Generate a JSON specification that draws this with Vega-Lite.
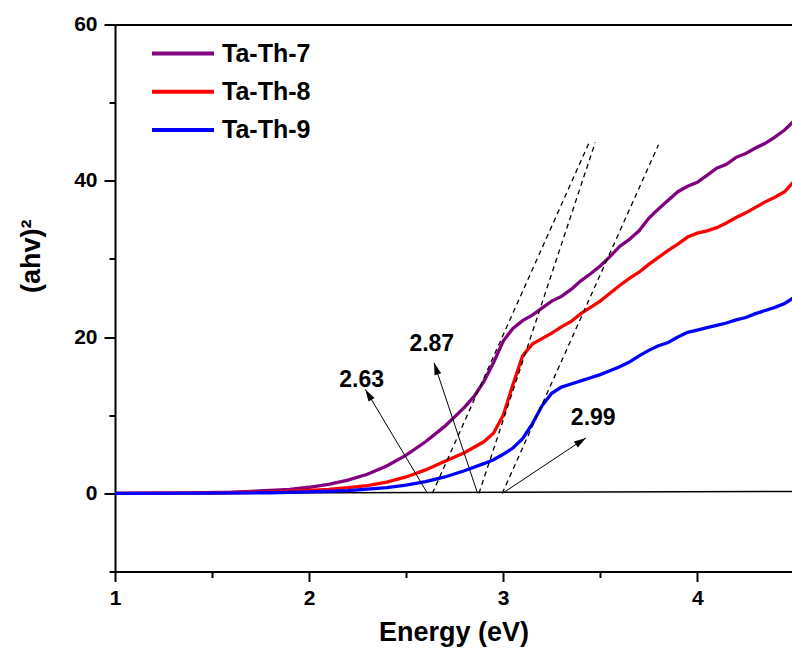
{
  "$schema": "https://vega.github.io/schema/vega-lite/v6.json",
  "width": 677,
  "height": 547,
  "autosize": {"type": "none"},
  "padding": {"left": 115, "top": 24.5, "right": 0, "bottom": 83.5},
  "background": "white",
  "config": {"view": {"stroke": null}, "font": "Liberation Sans"},
  "datasets": {
    "baseline": [
      {"energy": 1.0, "value": 0},
      {"energy": 4.5, "value": 0.25}
    ],
    "curves": [
      {"series": "Ta-Th-7", "energy": 1.0, "value": 0.0},
      {"series": "Ta-Th-7", "energy": 1.2, "value": 0.02},
      {"series": "Ta-Th-7", "energy": 1.4, "value": 0.06},
      {"series": "Ta-Th-7", "energy": 1.6, "value": 0.15},
      {"series": "Ta-Th-7", "energy": 1.7, "value": 0.25},
      {"series": "Ta-Th-7", "energy": 1.8, "value": 0.37},
      {"series": "Ta-Th-7", "energy": 1.9, "value": 0.52},
      {"series": "Ta-Th-7", "energy": 2.0, "value": 0.78},
      {"series": "Ta-Th-7", "energy": 2.1, "value": 1.15},
      {"series": "Ta-Th-7", "energy": 2.2, "value": 1.7},
      {"series": "Ta-Th-7", "energy": 2.3, "value": 2.45},
      {"series": "Ta-Th-7", "energy": 2.4, "value": 3.5},
      {"series": "Ta-Th-7", "energy": 2.5, "value": 4.9},
      {"series": "Ta-Th-7", "energy": 2.6, "value": 6.6},
      {"series": "Ta-Th-7", "energy": 2.7, "value": 8.6},
      {"series": "Ta-Th-7", "energy": 2.8, "value": 11.0},
      {"series": "Ta-Th-7", "energy": 2.85, "value": 12.4},
      {"series": "Ta-Th-7", "energy": 2.9, "value": 14.3},
      {"series": "Ta-Th-7", "energy": 2.95, "value": 16.7},
      {"series": "Ta-Th-7", "energy": 3.0, "value": 19.5},
      {"series": "Ta-Th-7", "energy": 3.05, "value": 21.1},
      {"series": "Ta-Th-7", "energy": 3.1, "value": 22.1},
      {"series": "Ta-Th-7", "energy": 3.15, "value": 22.8},
      {"series": "Ta-Th-7", "energy": 3.2, "value": 23.7},
      {"series": "Ta-Th-7", "energy": 3.25, "value": 24.6},
      {"series": "Ta-Th-7", "energy": 3.3, "value": 25.2},
      {"series": "Ta-Th-7", "energy": 3.35, "value": 26.1},
      {"series": "Ta-Th-7", "energy": 3.4, "value": 27.2},
      {"series": "Ta-Th-7", "energy": 3.45, "value": 28.1},
      {"series": "Ta-Th-7", "energy": 3.5, "value": 29.1},
      {"series": "Ta-Th-7", "energy": 3.55, "value": 30.3},
      {"series": "Ta-Th-7", "energy": 3.6, "value": 31.6},
      {"series": "Ta-Th-7", "energy": 3.65, "value": 32.5},
      {"series": "Ta-Th-7", "energy": 3.7, "value": 33.6},
      {"series": "Ta-Th-7", "energy": 3.75, "value": 35.2},
      {"series": "Ta-Th-7", "energy": 3.8, "value": 36.4},
      {"series": "Ta-Th-7", "energy": 3.85, "value": 37.5},
      {"series": "Ta-Th-7", "energy": 3.9, "value": 38.6},
      {"series": "Ta-Th-7", "energy": 3.95, "value": 39.3},
      {"series": "Ta-Th-7", "energy": 4.0, "value": 39.8},
      {"series": "Ta-Th-7", "energy": 4.05, "value": 40.7},
      {"series": "Ta-Th-7", "energy": 4.1, "value": 41.6},
      {"series": "Ta-Th-7", "energy": 4.15, "value": 42.1},
      {"series": "Ta-Th-7", "energy": 4.2, "value": 43.0},
      {"series": "Ta-Th-7", "energy": 4.25, "value": 43.5},
      {"series": "Ta-Th-7", "energy": 4.3, "value": 44.2},
      {"series": "Ta-Th-7", "energy": 4.35, "value": 44.8},
      {"series": "Ta-Th-7", "energy": 4.4, "value": 45.6},
      {"series": "Ta-Th-7", "energy": 4.45, "value": 46.5},
      {"series": "Ta-Th-7", "energy": 4.5, "value": 47.7},
      {"series": "Ta-Th-8", "energy": 1.0, "value": 0.0},
      {"series": "Ta-Th-8", "energy": 1.4, "value": 0.03},
      {"series": "Ta-Th-8", "energy": 1.6, "value": 0.08},
      {"series": "Ta-Th-8", "energy": 1.8, "value": 0.18},
      {"series": "Ta-Th-8", "energy": 1.9, "value": 0.27},
      {"series": "Ta-Th-8", "energy": 2.0, "value": 0.38},
      {"series": "Ta-Th-8", "energy": 2.1, "value": 0.52},
      {"series": "Ta-Th-8", "energy": 2.2, "value": 0.72},
      {"series": "Ta-Th-8", "energy": 2.3, "value": 1.0},
      {"series": "Ta-Th-8", "energy": 2.4, "value": 1.45},
      {"series": "Ta-Th-8", "energy": 2.5, "value": 2.1},
      {"series": "Ta-Th-8", "energy": 2.6, "value": 3.0},
      {"series": "Ta-Th-8", "energy": 2.7, "value": 4.1},
      {"series": "Ta-Th-8", "energy": 2.8, "value": 5.2},
      {"series": "Ta-Th-8", "energy": 2.85, "value": 5.9},
      {"series": "Ta-Th-8", "energy": 2.9, "value": 6.6},
      {"series": "Ta-Th-8", "energy": 2.95, "value": 7.7},
      {"series": "Ta-Th-8", "energy": 3.0, "value": 10.0},
      {"series": "Ta-Th-8", "energy": 3.05, "value": 13.9},
      {"series": "Ta-Th-8", "energy": 3.1, "value": 17.6},
      {"series": "Ta-Th-8", "energy": 3.15, "value": 19.1},
      {"series": "Ta-Th-8", "energy": 3.2, "value": 19.8},
      {"series": "Ta-Th-8", "energy": 3.25, "value": 20.5},
      {"series": "Ta-Th-8", "energy": 3.3, "value": 21.3},
      {"series": "Ta-Th-8", "energy": 3.35, "value": 22.0},
      {"series": "Ta-Th-8", "energy": 3.4, "value": 23.0},
      {"series": "Ta-Th-8", "energy": 3.45, "value": 23.8},
      {"series": "Ta-Th-8", "energy": 3.5, "value": 24.6},
      {"series": "Ta-Th-8", "energy": 3.55, "value": 25.6},
      {"series": "Ta-Th-8", "energy": 3.6, "value": 26.6},
      {"series": "Ta-Th-8", "energy": 3.65, "value": 27.5},
      {"series": "Ta-Th-8", "energy": 3.7, "value": 28.3},
      {"series": "Ta-Th-8", "energy": 3.75, "value": 29.3},
      {"series": "Ta-Th-8", "energy": 3.8, "value": 30.2},
      {"series": "Ta-Th-8", "energy": 3.85, "value": 31.1},
      {"series": "Ta-Th-8", "energy": 3.9, "value": 31.9},
      {"series": "Ta-Th-8", "energy": 3.95, "value": 32.8},
      {"series": "Ta-Th-8", "energy": 4.0, "value": 33.3},
      {"series": "Ta-Th-8", "energy": 4.05, "value": 33.6},
      {"series": "Ta-Th-8", "energy": 4.1, "value": 34.0},
      {"series": "Ta-Th-8", "energy": 4.15, "value": 34.6},
      {"series": "Ta-Th-8", "energy": 4.2, "value": 35.3},
      {"series": "Ta-Th-8", "energy": 4.25, "value": 35.9},
      {"series": "Ta-Th-8", "energy": 4.3, "value": 36.6},
      {"series": "Ta-Th-8", "energy": 4.35, "value": 37.3},
      {"series": "Ta-Th-8", "energy": 4.4, "value": 37.9},
      {"series": "Ta-Th-8", "energy": 4.45, "value": 38.6},
      {"series": "Ta-Th-8", "energy": 4.5, "value": 40.0},
      {"series": "Ta-Th-9", "energy": 1.0, "value": 0.0},
      {"series": "Ta-Th-9", "energy": 1.5, "value": 0.03},
      {"series": "Ta-Th-9", "energy": 1.8, "value": 0.08},
      {"series": "Ta-Th-9", "energy": 2.0, "value": 0.18},
      {"series": "Ta-Th-9", "energy": 2.2, "value": 0.36},
      {"series": "Ta-Th-9", "energy": 2.4, "value": 0.72},
      {"series": "Ta-Th-9", "energy": 2.5, "value": 1.05},
      {"series": "Ta-Th-9", "energy": 2.6, "value": 1.5},
      {"series": "Ta-Th-9", "energy": 2.7, "value": 2.1},
      {"series": "Ta-Th-9", "energy": 2.8, "value": 2.9},
      {"series": "Ta-Th-9", "energy": 2.9, "value": 3.8},
      {"series": "Ta-Th-9", "energy": 2.95, "value": 4.3},
      {"series": "Ta-Th-9", "energy": 3.0, "value": 5.0},
      {"series": "Ta-Th-9", "energy": 3.05, "value": 5.8},
      {"series": "Ta-Th-9", "energy": 3.1, "value": 7.0},
      {"series": "Ta-Th-9", "energy": 3.15, "value": 8.9},
      {"series": "Ta-Th-9", "energy": 3.2, "value": 11.2},
      {"series": "Ta-Th-9", "energy": 3.25, "value": 12.8},
      {"series": "Ta-Th-9", "energy": 3.3, "value": 13.6},
      {"series": "Ta-Th-9", "energy": 3.35, "value": 14.0},
      {"series": "Ta-Th-9", "energy": 3.4, "value": 14.4},
      {"series": "Ta-Th-9", "energy": 3.45, "value": 14.8},
      {"series": "Ta-Th-9", "energy": 3.5, "value": 15.2},
      {"series": "Ta-Th-9", "energy": 3.55, "value": 15.7},
      {"series": "Ta-Th-9", "energy": 3.6, "value": 16.2},
      {"series": "Ta-Th-9", "energy": 3.65, "value": 16.8},
      {"series": "Ta-Th-9", "energy": 3.7, "value": 17.6},
      {"series": "Ta-Th-9", "energy": 3.75, "value": 18.3},
      {"series": "Ta-Th-9", "energy": 3.8, "value": 18.9},
      {"series": "Ta-Th-9", "energy": 3.85, "value": 19.3},
      {"series": "Ta-Th-9", "energy": 3.9, "value": 20.0},
      {"series": "Ta-Th-9", "energy": 3.95, "value": 20.6},
      {"series": "Ta-Th-9", "energy": 4.0, "value": 20.9},
      {"series": "Ta-Th-9", "energy": 4.05, "value": 21.2},
      {"series": "Ta-Th-9", "energy": 4.1, "value": 21.5},
      {"series": "Ta-Th-9", "energy": 4.15, "value": 21.8},
      {"series": "Ta-Th-9", "energy": 4.2, "value": 22.2},
      {"series": "Ta-Th-9", "energy": 4.25, "value": 22.5},
      {"series": "Ta-Th-9", "energy": 4.3, "value": 23.0},
      {"series": "Ta-Th-9", "energy": 4.35, "value": 23.4},
      {"series": "Ta-Th-9", "energy": 4.4, "value": 23.8},
      {"series": "Ta-Th-9", "energy": 4.45, "value": 24.3},
      {"series": "Ta-Th-9", "energy": 4.5, "value": 25.1}
    ],
    "tangents": [
      {"id": "t7", "energy": 2.635, "value": 0},
      {"id": "t7", "energy": 3.443, "value": 44.9},
      {"id": "t8", "energy": 2.875, "value": 0},
      {"id": "t8", "energy": 3.474, "value": 44.9},
      {"id": "t9", "energy": 2.995, "value": 0},
      {"id": "t9", "energy": 3.8, "value": 44.6}
    ],
    "arrows": [
      {"id": "a263", "x0": 2.61, "y0": 0, "x1": 2.29, "y1": 13.3, "dir": 329.2},
      {"id": "a287", "x0": 2.868, "y0": 0, "x1": 2.644, "y1": 16.7, "dir": 341.6},
      {"id": "a299", "x0": 2.996, "y0": 0, "x1": 3.426, "y1": 7.1, "dir": 56.4}
    ],
    "labels": [
      {"text": "2.63", "energy": 2.271, "value": 14.5},
      {"text": "2.87", "energy": 2.632, "value": 19.1},
      {"text": "2.99", "energy": 3.464, "value": 9.6}
    ]
  },
  "layer": [
    {
      "data": {"name": "baseline"},
      "mark": {"type": "line", "color": "black", "strokeWidth": 1.5, "clip": true},
      "encoding": {
        "x": {
          "field": "energy", "type": "quantitative",
          "scale": {"domain": [1, 4.488], "nice": false, "zero": false},
          "axis": {
            "orient": "bottom",
            "values": [1, 1.5, 2, 2.5, 3, 3.5, 4],
            "labelExpr": "datum.value % 1 === 0 ? format(datum.value, 'd') : ''",
            "title": "Energy (eV)",
            "titleFontSize": 27, "titleFontWeight": "bold", "titleColor": "black", "titlePadding": 11,
            "labelFontSize": 21, "labelFontWeight": "bold", "labelColor": "black", "labelPadding": 6,
            "labelFlush": false, "labelOverlap": false,
            "domainColor": "black", "domainWidth": 2,
            "tickColor": "black", "tickWidth": 2,
            "tickSize": {"condition": {"test": "datum.value % 1 === 0", "value": 10}, "value": 6},
            "grid": false
          }
        },
        "y": {
          "field": "value", "type": "quantitative",
          "scale": {"domain": [-10, 60], "nice": false, "zero": false},
          "axis": {
            "values": [-10, 0, 10, 20, 30, 40, 50, 60],
            "labelExpr": "(datum.value % 20 === 0 && datum.value >= 0) ? datum.label : ''",
            "title": "(ahv)²",
            "titleFontSize": 27, "titleFontWeight": "bold", "titleColor": "black", "titlePadding": 28,
            "titleAlign": "left", "titleY": 268,
            "labelFontSize": 21, "labelFontWeight": "bold", "labelColor": "black", "labelPadding": 7,
            "labelFlush": false, "labelOverlap": false,
            "domainColor": "black", "domainWidth": 2,
            "tickColor": "black", "tickWidth": 2,
            "tickSize": {"condition": {"test": "datum.value % 20 === 0", "value": 11}, "value": 6},
            "grid": false
          }
        }
      }
    },
    {
      "data": {"name": "baseline"},
      "mark": {"type": "line", "opacity": 0},
      "encoding": {
        "x": {
          "field": "energy", "type": "quantitative",
          "axis": {"orient": "top", "domain": true, "domainColor": "black", "domainWidth": 2, "ticks": false, "labels": false, "title": null, "grid": false}
        },
        "y": {"field": "value", "type": "quantitative"}
      }
    },
    {
      "data": {"name": "curves"},
      "mark": {"type": "line", "strokeWidth": 3.3, "clip": true},
      "encoding": {
        "x": {"field": "energy", "type": "quantitative", "axis": null},
        "y": {"field": "value", "type": "quantitative"},
        "color": {
          "field": "series", "type": "nominal",
          "scale": {"domain": ["Ta-Th-7", "Ta-Th-8", "Ta-Th-9"], "range": ["#800080", "#ff0000", "#0000ff"]},
          "legend": {
            "orient": "none", "legendX": 35, "legendY": 17, "title": null,
            "labelFontSize": 25, "labelFontWeight": "bold", "labelColor": "black",
            "symbolType": "stroke", "symbolSize": 3844, "symbolStrokeWidth": 4,
            "clipHeight": 24, "labelOffset": 6, "rowPadding": 13.3
          }
        }
      }
    },
    {
      "data": {"name": "tangents"},
      "mark": {"type": "line", "color": "black", "strokeWidth": 1.3, "strokeDash": [5, 4], "clip": true},
      "encoding": {
        "x": {"field": "energy", "type": "quantitative", "axis": null},
        "y": {"field": "value", "type": "quantitative"},
        "detail": {"field": "id"}
      }
    },
    {
      "data": {"name": "arrows"},
      "mark": {"type": "rule", "color": "black", "strokeWidth": 1},
      "encoding": {
        "x": {"field": "x0", "type": "quantitative", "axis": null},
        "y": {"field": "y0", "type": "quantitative"},
        "x2": {"field": "x1"},
        "y2": {"field": "y1"}
      }
    },
    {
      "data": {"name": "arrows"},
      "mark": {"type": "point", "shape": "M0,0L0.7,2.4L-0.7,2.4Z", "filled": true, "color": "black", "opacity": 1, "size": 100},
      "encoding": {
        "x": {"field": "x1", "type": "quantitative", "axis": null},
        "y": {"field": "y1", "type": "quantitative"},
        "angle": {"field": "dir", "type": "quantitative", "scale": null}
      }
    },
    {
      "data": {"name": "labels"},
      "mark": {"type": "text", "fontSize": 23, "fontWeight": "bold", "color": "black", "align": "center", "baseline": "middle"},
      "encoding": {
        "x": {"field": "energy", "type": "quantitative", "axis": null},
        "y": {"field": "value", "type": "quantitative"},
        "text": {"field": "text"}
      }
    }
  ],
  "resolve": {"axis": {"x": "independent"}}
}
